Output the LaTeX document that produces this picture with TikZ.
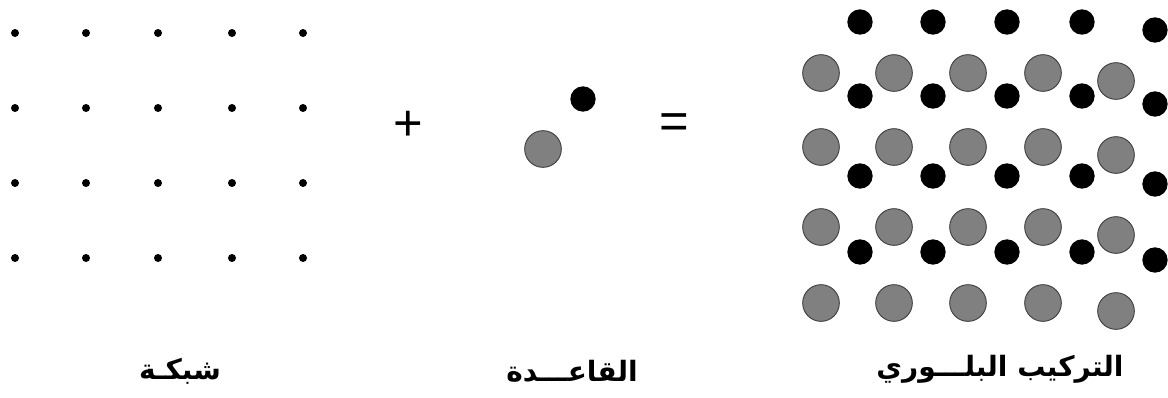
\documentclass[tikz,border=0pt]{standalone}
\usepackage{fontspec}
\newfontfamily\arabicfont[Script=Arabic]{DejaVu Sans}
\newfontfamily\signfont{Liberation Sans}
\TeXXeTstate=1

\begin{document}
\begin{tikzpicture}[x=0.75pt, y=-0.75pt,
  latdot/.style={circle, fill=black, inner sep=0pt, minimum size=6pt},
  anion/.style={circle, draw=black!75, fill=black!50, line width=0.7pt, inner sep=0pt, minimum size=27.5pt},
  cation/.style={circle, fill=black, inner sep=0pt, minimum size=19pt},
  arlabel/.style={font=\arabicfont\bfseries\fontsize{21}{25}\selectfont},
  sign/.style={font=\signfont\fontsize{38}{38}\selectfont}]
  \useasboundingbox (0,0) rectangle (1168,397);
  % lattice points
  \foreach \c/\x in {1/15,2/86,3/158,4/232,5/303} {
    \foreach \r/\y in {1/33,2/108,3/183,4/258} {
      \node[latdot] (lat\r\c) at (\x,\y) {};
    }
  }
  % plus and equals
  \node[sign] (plus) at (408,126) {+};
  \node[sign] (equals) at (674,126) {=};
  % basis
  \node[anion] (basA) at (543,149) {};
  \node[cation] (basB) at (583,99) {};
  % crystal structure = lattice + basis
  \foreach \c/\x/\dy in {1/821/0,2/894/0,3/968/0,4/1043/0,5/1116/8} {
    \foreach \r/\y in {1/73,2/147,3/227,4/303} {
      \node[anion] (an\r\c) at (\x,\y+\dy) {};
      \node[cation] (cat\r\c) at (\x+39,\y+\dy-51) {};
    }
  }
  % captions
  \node[arlabel] (lblLattice) at (180,371) {\beginR شبكـة\endR};
  \node[arlabel] (lblBasis) at (572,371) {\beginR القاعـــدة\endR};
  \node[arlabel] (lblCrystal) at (1000,369) {\beginR التركيب البلـــوري\endR};
\end{tikzpicture}
\end{document}
